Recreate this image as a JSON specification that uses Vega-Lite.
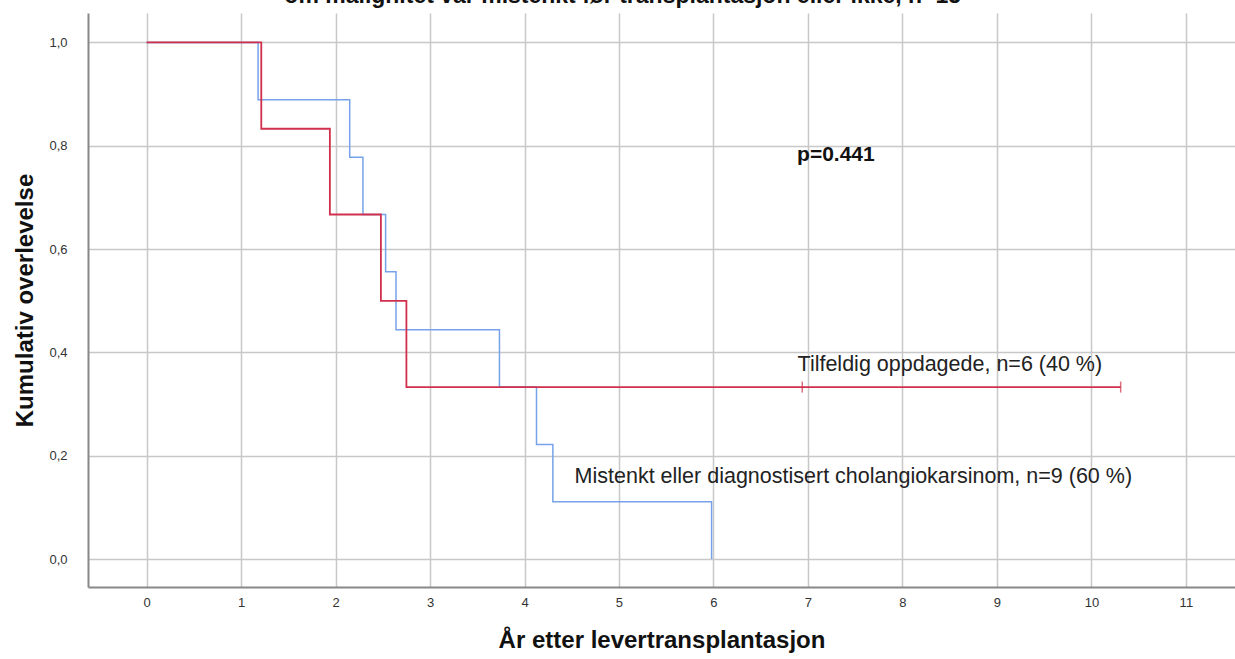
{
  "$schema": "https://vega.github.io/schema/vega-lite/v6.json",
  "autosize": "none",
  "padding": {"left": 88, "top": 13, "right": 0, "bottom": 72},
  "width": 1147,
  "height": 574,
  "background": "white",
  "config": {
    "view": {"stroke": null},
    "font": "Liberation Sans"
  },
  "datasets": {
    "km": [
      {"group": "Mistenkt", "t": 0, "s": 1},
      {"group": "Mistenkt", "t": 1.18, "s": 0.889},
      {"group": "Mistenkt", "t": 2.15, "s": 0.778},
      {"group": "Mistenkt", "t": 2.29, "s": 0.667},
      {"group": "Mistenkt", "t": 2.53, "s": 0.556},
      {"group": "Mistenkt", "t": 2.64, "s": 0.444},
      {"group": "Mistenkt", "t": 3.735, "s": 0.333},
      {"group": "Mistenkt", "t": 4.127, "s": 0.222},
      {"group": "Mistenkt", "t": 4.3, "s": 0.111},
      {"group": "Mistenkt", "t": 5.98, "s": 0},
      {"group": "Tilfeldig", "t": 0, "s": 1},
      {"group": "Tilfeldig", "t": 1.214, "s": 0.833},
      {"group": "Tilfeldig", "t": 1.94, "s": 0.667},
      {"group": "Tilfeldig", "t": 2.48, "s": 0.5},
      {"group": "Tilfeldig", "t": 2.75, "s": 0.333},
      {"group": "Tilfeldig", "t": 10.31, "s": 0.333}
    ],
    "censor": [
      {"group": "Tilfeldig", "t": 6.94, "s": 0.333},
      {"group": "Tilfeldig", "t": 10.31, "s": 0.333}
    ],
    "labels": [
      {"t": 6.89, "s": 0.376, "label": "Tilfeldig oppdagede, n=6 (40 %)"},
      {"t": 4.53, "s": 0.159, "label": "Mistenkt eller diagnostisert cholangiokarsinom, n=9 (60 %)"}
    ],
    "pval": [
      {"t": 6.885, "s": 0.782, "label": "p=0.441"}
    ],
    "heading": [
      {"t": 5.04, "s": 1.0755, "label": "om malignitet var mistenkt før transplantasjon eller ikke, n=15"}
    ]
  },
  "encoding": {
    "x": {
      "field": "t",
      "type": "quantitative",
      "scale": {"domain": [-0.62, 11.52], "nice": false, "zero": false},
      "axis": {
        "title": "År etter levertransplantasjon",
        "titleFont": "Liberation Sans",
        "titleFontSize": 24,
        "titleFontWeight": "bold",
        "titleColor": "#111111",
        "titlePadding": 19,
        "values": [0, 1, 2, 3, 4, 5, 6, 7, 8, 9, 10, 11],
        "labelFontSize": 13,
        "labelColor": "#333333",
        "labelPadding": 9,
        "ticks": false,
        "domainColor": "#888888",
        "domainWidth": 2,
        "grid": true,
        "gridColor": "#c8c8c8",
        "gridWidth": 1.5
      }
    },
    "y": {
      "field": "s",
      "type": "quantitative",
      "scale": {"domain": [-0.054, 1.057], "nice": false, "zero": false},
      "axis": {
        "title": "Kumulativ overlevelse",
        "titleFont": "Liberation Sans",
        "titleFontSize": 24,
        "titleFontWeight": "bold",
        "titleColor": "#111111",
        "titlePadding": 11,
        "values": [0, 0.2, 0.4, 0.6, 0.8, 1.0],
        "labelExpr": "replace(format(datum.value, '.1f'), '.', ',')",
        "labelFontSize": 13,
        "labelColor": "#333333",
        "labelPadding": 21,
        "ticks": false,
        "domainColor": "#888888",
        "domainWidth": 2,
        "grid": true,
        "gridColor": "#c8c8c8",
        "gridWidth": 1.5
      }
    }
  },
  "layer": [
    {
      "data": {"name": "km"},
      "transform": [{"filter": "datum.group === 'Mistenkt'"}],
      "mark": {"type": "line", "interpolate": "step-after", "strokeWidth": 1.5, "color": "#77a2ea"},
      "encoding": {}
    },
    {
      "data": {"name": "km"},
      "transform": [{"filter": "datum.group === 'Tilfeldig'"}],
      "mark": {"type": "line", "interpolate": "step-after", "strokeWidth": 1.8, "color": "#d0304c"},
      "encoding": {}
    },
    {
      "data": {"name": "censor"},
      "mark": {"type": "tick", "orient": "vertical", "size": 11, "thickness": 1.5, "color": "#d0304c"},
      "encoding": {}
    },
    {
      "data": {"name": "labels"},
      "mark": {"type": "text", "align": "left", "baseline": "middle", "fontSize": 21.5, "color": "#222222", "font": "Liberation Sans"},
      "encoding": {"text": {"field": "label"}}
    },
    {
      "data": {"name": "pval"},
      "mark": {"type": "text", "align": "left", "baseline": "middle", "fontSize": 21, "fontWeight": "bold", "color": "#111111", "font": "Liberation Sans"},
      "encoding": {"text": {"field": "label"}}
    },
    {
      "data": {"name": "heading"},
      "mark": {"type": "text", "align": "center", "baseline": "alphabetic", "fontSize": 23, "fontWeight": "bold", "color": "#111111", "font": "Liberation Sans", "clip": false},
      "encoding": {"text": {"field": "label"}}
    }
  ]
}
